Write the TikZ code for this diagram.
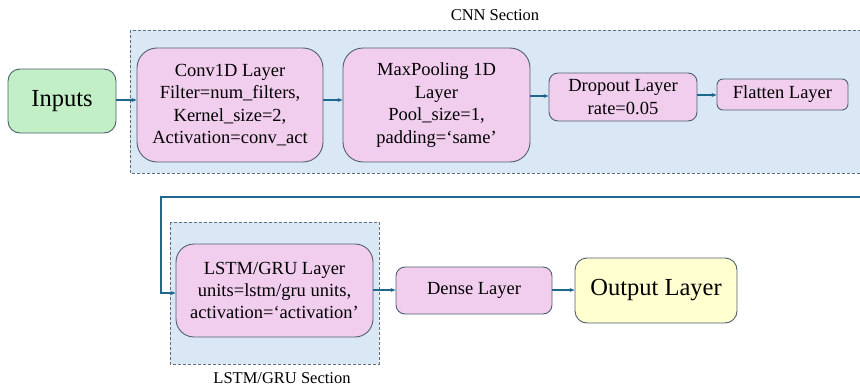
\documentclass[tikz,border=0pt]{standalone}
\usepackage{fontspec}
\setmainfont{Liberation Serif}
\usetikzlibrary{arrows.meta}

\definecolor{sectfill}{HTML}{DAE8F5}
\definecolor{sectline}{HTML}{5E6E7E}
\definecolor{layerfill}{HTML}{F2CEEE}
\definecolor{inputfill}{HTML}{C2EFC5}
\definecolor{outputfill}{HTML}{FFFFCF}
\definecolor{boxline}{HTML}{4E6070}
\definecolor{arrowcol}{HTML}{1F678C}

\tikzset{
  section/.style={draw=sectline, fill=sectfill, dashed, line width=0.8pt, dash pattern=on 3pt off 2pt},
  layer/.style={draw=boxline, fill=layerfill, line width=0.9pt, align=center, inner sep=0pt,
    font=\fontsize{18.5}{22.4}\selectfont},
  bigbox/.style={draw=boxline, line width=0.9pt, align=center, inner sep=0pt,
    font=\fontsize{24.5}{28}\selectfont},
  conn/.style={draw=arrowcol, line width=1.2pt, -{Stealth[length=5pt,width=4pt]}},
  seclabel/.style={font=\fontsize{16.5}{19}\selectfont, inner sep=0pt},
}

\begin{document}
\begin{tikzpicture}[x=1pt, y=-1pt]
  \useasboundingbox (0,0) rectangle (860,388);
  \clip (0,0) rectangle (860,388);

  % section backgrounds
  \path[section] (130,30) rectangle (880,173);
  \node[seclabel] (cnnlabel) at (495,15) {CNN Section};
  \path[section] (170,222) rectangle (379,364);
  \node[seclabel] (rnnlabel) at (282,378) {LSTM/GRU Section};

  % layers
  \node[bigbox, fill=inputfill, rounded corners=12pt, minimum width=108pt, minimum height=64pt]
    (inputs) at (62,101) {Inputs};
  \node[layer, rounded corners=20pt, minimum width=186pt, minimum height=114pt]
    (conv) at (230,105) {Conv1D Layer\\Filter=num\_filters,\\Kernel\_size=2,\\Activation=conv\_act};
  \node[layer, rounded corners=20pt, minimum width=187pt, minimum height=114pt]
    (pool) at (436.5,105) {MaxPooling 1D\\Layer\\Pool\_size=1,\\padding=‘same’};
  \node[layer, rounded corners=9pt, minimum width=148pt, minimum height=48pt]
    (drop) at (623,97) {Dropout Layer\\rate=0.05};
  \node[layer, rounded corners=6pt, minimum width=131pt, minimum height=31pt]
    (flat) at (782.5,94.5) {Flatten Layer};
  \node[layer, rounded corners=18pt, minimum width=197pt, minimum height=93pt]
    (rnn) at (274.5,290.5) {LSTM/GRU Layer\\units=lstm/gru units,\\activation=‘activation’};
  \node[layer, rounded corners=9pt, minimum width=156pt, minimum height=47pt]
    (dense) at (474,290.5) {Dense Layer};
  \node[bigbox, fill=outputfill, rounded corners=12pt, minimum width=162pt, minimum height=65pt]
    (out) at (656,290.5) {Output Layer};

  % connectors
  \draw[conn] (inputs.east |- 0,100) -- (conv.west |- 0,100);
  \draw[conn] (conv.east |- 0,100) -- (pool.west |- 0,100);
  \draw[conn] (pool.east |- 0,96) -- (drop.west |- 0,96);
  \draw[conn] (drop.east |- 0,95) -- (flat.west |- 0,95);

  \coordinate (wrap) at (880,197);
  \coordinate (bend) at (161,197);
  \draw[conn] (wrap) -- (bend) |- (rnn.west |- 0,293);
  \draw[conn] (rnn.east |- 0,290) -- (dense.west |- 0,290);
  \draw[conn] (dense.east |- 0,290) -- (out.west |- 0,290);
\end{tikzpicture}
\end{document}
